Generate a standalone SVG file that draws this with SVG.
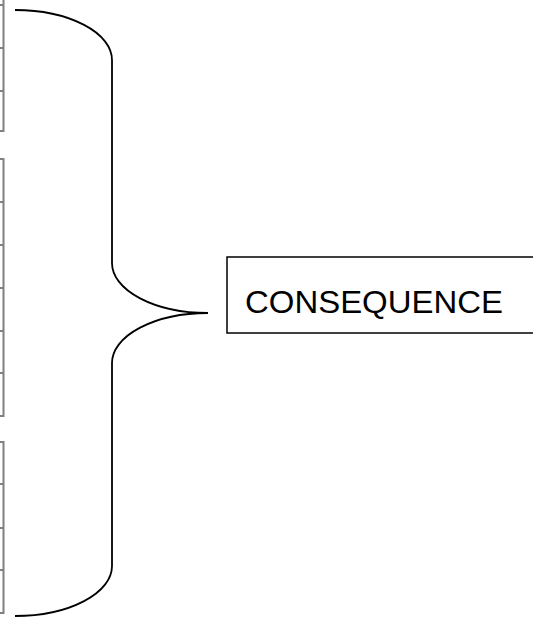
<svg xmlns="http://www.w3.org/2000/svg" width="533" height="619" viewBox="0 0 533 619">
<style>
.cell{fill:none;stroke:#808080;stroke-width:2}
.brace{fill:none;stroke:#000;stroke-width:1.8}
.box{fill:#fff;stroke:#000;stroke-width:1.5}
.lbl{font-family:"Liberation Sans",Arial,sans-serif;font-size:31px;fill:#000}
</style>
<rect width="533" height="619" fill="#fff"/>
<g id="cells1">
<path class="cell" d="M3.5,0 V131 H0 M0,5 H3.5 M0,48 H3.5 M0,91 H3.5"/>
</g>
<g id="cells2">
<path class="cell" d="M0,159 H3.5 V416 H0 M0,202 H3.5 M0,245 H3.5 M0,288 H3.5 M0,331 H3.5 M0,373 H3.5"/>
</g>
<g id="cells3">
<path class="cell" d="M0,442 H3.5 V613 H0 M0,484 H3.5 M0,528 H3.5 M0,570 H3.5"/>
</g>
<g id="connectors">
<path class="brace" d="M15,10 A97,50 0 0 1 112,60 V263 A96,50 0 0 0 208,313 A96,50 0 0 0 112,363 V566 A97,50 0 0 1 15,616"/>
</g>
<g id="consequence">
<rect class="box" x="227" y="257" width="320" height="76"/>
<text class="lbl" x="245" y="313" textLength="258" lengthAdjust="spacingAndGlyphs">CONSEQUENCE</text>
</g>
</svg>
